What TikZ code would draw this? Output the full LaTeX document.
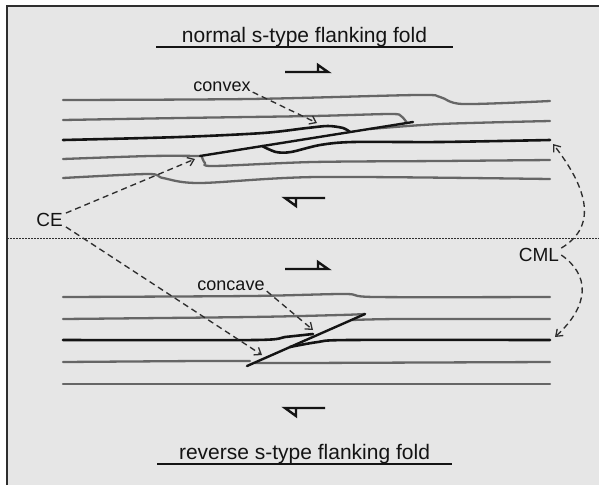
\documentclass[tikz,border=0pt]{standalone}
\usepackage{fontspec}
\setmainfont{Liberation Sans}
\usetikzlibrary{arrows.meta}
\definecolor{panel}{HTML}{E6E6E6}
\definecolor{layer}{HTML}{666666}
\definecolor{ink}{HTML}{141414}
\definecolor{frame}{HTML}{2E2E2E}

\begin{document}
\begin{tikzpicture}[x=1pt,y=-1pt,
  layer/.style={draw=layer,line width=2.3pt,line cap=round,line join=round},
  marker/.style={draw=ink,line width=2.6pt,line cap=round,line join=round},
  fault/.style={draw=ink,line width=2.4pt,line cap=round},
  pointer/.style={draw=frame,line width=1.35pt,dash pattern=on 6pt off 4pt,
    -{Straight Barb[length=6pt,width=9pt,line width=1.3pt]}},
  lbl/.style={font=\fontsize{19}{22}\selectfont,text=ink,inner sep=0pt},
  small/.style={font=\fontsize{18}{21}\selectfont,text=ink,inner sep=0pt},
  ttl/.style={font=\fontsize{21}{24}\selectfont,text=ink,inner sep=0pt,anchor=base},
  shear/.style={draw=ink,line width=2.4pt,line join=miter}]

\useasboundingbox (0,0) rectangle (599,485);
\fill[white] (0,0) rectangle (599,485);
\fill[panel] (7,6) rectangle (599,485);
\draw[frame,line width=2pt] (7,485) -- (7,6) -- (599,6);

% titles with underlines
\node[ttl] (ttop) at (304.5,42) {normal s-type flanking fold};
\draw[ink,line width=1.5pt] (156,47) -- (453,47);
\node[ttl] (tbot) at (304.5,459) {reverse s-type flanking fold};
\draw[ink,line width=1.5pt] (157,464) -- (452,464);

% dotted separator
\draw[frame,line width=1pt,dash pattern=on 1.5pt off 1.5pt] (7,238.5) -- (599,238.5);

% ---------- normal flanking fold ----------
\draw[layer] plot[smooth,tension=0.5] coordinates
  {(63,100) (250,99) (417,95) (440,97) (463,104) (550,101)};
\draw[layer] plot[smooth,tension=0.5] coordinates
  {(63,120) (180,118) (313,116) (390,114) (401,116) (407,123)};
\draw[layer] plot[smooth,tension=0.5] coordinates
  {(370,129) (440,124) (550,121)};
\draw[layer] plot[smooth,tension=0.5] coordinates
  {(63,159) (150,156) (200,156)};
\draw[layer] plot[smooth,tension=0.5] coordinates
  {(202,157) (205,163) (214,166) (313,162) (440,161) (550,160)};
\draw[layer] plot[smooth,tension=0.5] coordinates
  {(63,178) (148,174) (163,178) (200,183) (317,177) (550,179)};
% marker layer, cut by the element
\draw[marker] plot[smooth,tension=0.5] coordinates
  {(63,140) (180,137) (263,133) (307,128) (328,126) (343,128) (350,132)};
\draw[marker] plot[smooth,tension=0.5] coordinates
  {(262,146) (276,152) (291,152) (320,145) (353,142) (440,142) (550,140)};
% cross-cutting element
\draw[fault] (200,156) -- (413,122);

% shear sense
\draw[shear] (285,72) -- (328,72) -- (318,65) -- (318,72);
\draw[shear] (325,198) -- (285,198) -- (296,206) -- (296,198);

% ---------- reverse flanking fold ----------
\draw[layer] plot[smooth,tension=0.5] coordinates
  {(63,297) (250,296) (345,294) (375,297) (550,297)};
\draw[layer] plot[smooth,tension=0.5] coordinates
  {(63,319) (250,317) (340,315) (365,314)};
\draw[layer] plot[smooth,tension=0.5] coordinates
  {(352,320) (400,319) (550,319)};
\draw[layer] plot[smooth,tension=0.5] coordinates
  {(63,362) (200,361) (250,361)};
\draw[layer] plot[smooth,tension=0.5] coordinates
  {(255,363) (300,363) (550,362)};
\draw[layer] (63,384) -- (550,384);
\draw[marker] plot[smooth,tension=0.5] coordinates
  {(63,340) (255,340) (285,337) (313,334)};
\draw[marker] plot[smooth,tension=0.5] coordinates
  {(290,347) (318,342) (350,340) (550,340)};
\draw[fault] (247,366) -- (365,314);

\draw[shear] (285,269) -- (328,269) -- (318,262) -- (318,269);
\draw[shear] (325,408) -- (285,408) -- (296,416) -- (296,408);

% ---------- labels and pointers ----------
\node[small] (cvx) at (222,87) {convex};
\node[small] (ccv) at (231,286) {concave};
\node[lbl] (ce) at (49.5,220) {CE};
\node[lbl] (cml) at (539,255) {CML};

\coordinate (hingeA) at (317,123);
\coordinate (hingeB) at (313,330);
\coordinate (ceA) at (195,159);
\coordinate (ceB) at (262,355);
\coordinate (mlA) at (553,144);
\coordinate (mlB) at (555,337);

\draw[pointer] ([xshift=2pt]cvx.south east) -- (hingeA);
\draw[pointer] ([xshift=2pt]ccv.south east) -- (hingeB);
\draw[pointer] ([xshift=3pt]ce.north east) -- (ceA);
\draw[pointer] ([xshift=3pt]ce.south east) -- (ceB);
\draw[pointer] ([xshift=2pt]cml.north east) .. controls (600,225) and (585,185) .. (mlA);
\draw[pointer] ([xshift=2pt]cml.east) .. controls (590,275) and (590,305) .. (mlB);
\end{tikzpicture}
\end{document}
